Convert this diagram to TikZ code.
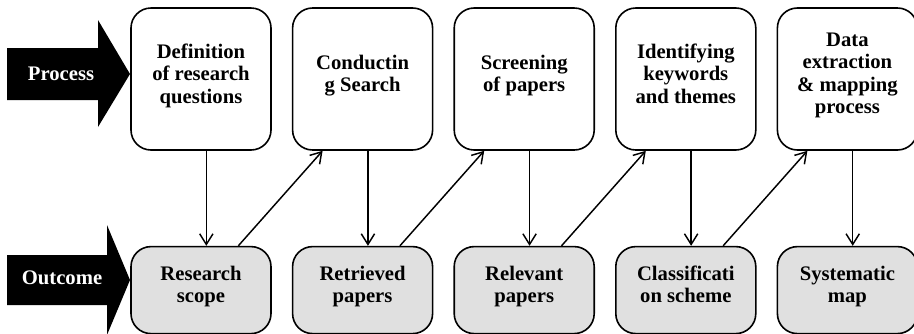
\documentclass[tikz,border=0pt]{standalone}
\usepackage{fontspec}
\setmainfont{Liberation Serif}
\usetikzlibrary{arrows.meta,positioning}
\definecolor{outgray}{RGB}{224,224,224}

\begin{document}
\begin{tikzpicture}[
    x=0.75pt, y=-0.75pt,
    node distance=71.25pt and 15pt,
    proc/.style={draw, line width=1.2pt, rounded corners=15pt, fill=white,
                minimum width=105pt, minimum height=106.5pt, align=center,
                font=\fontsize{15.5}{16.9}\selectfont\bfseries,
                execute at end node={\rule[-8.5pt]{0pt}{8.5pt}}},
    outc/.style={proc, fill=outgray, minimum height=65.25pt},
    tag/.style={text=white, font=\fontsize{15.5}{16.9}\selectfont\bfseries},
    arr/.style={-{Straight Barb[length=8pt,width=10pt]}, line width=1.1pt}
]
    \useasboundingbox (0,0) rectangle (914,333);

    % big arrows on the left
    \fill (7,48) -- (98,48) -- (98,20) -- (130,74) -- (98,127) -- (98,100) -- (7,100) -- cycle;
    \fill (7,255) -- (107,255) -- (107,225) -- (130,280) -- (107,335) -- (107,305) -- (7,305) -- cycle;
    \node[tag] (proclbl) at (61,74) {Process};
    \node[tag] (outlbl) at (62,278) {Outcome};

    % process steps
    \node[proc] (p1) at (201,79) {Definition\\of research\\questions};
    \node[proc, right=of p1] (p2) {Conductin\\g Search};
    \node[proc, right=of p2] (p3) {Screening\\of papers};
    \node[proc, right=of p3] (p4) {Identifying\\keywords\\and themes};
    \node[proc, right=of p4] (p5) {Data\\extraction\\\& mapping\\process};

    % outcomes
    \node[outc, below=of p1] (o1) {Research\\scope};
    \node[outc, below=of p2] (o2) {Retrieved\\papers};
    \node[outc, below=of p3] (o3) {Relevant\\papers};
    \node[outc, below=of p4] (o4) {Classificati\\on scheme};
    \node[outc, below=of p5] (o5) {Systematic\\map};

    \draw[arr] ([xshift=4pt]p1.south) -- ([xshift=4pt]o1.north);
    \draw[arr] ([xshift=4pt]p2.south) -- ([xshift=4pt]o2.north);
    \draw[arr] ([xshift=4pt]p3.south) -- ([xshift=4pt]o3.north);
    \draw[arr] ([xshift=4pt]p4.south) -- ([xshift=4pt]o4.north);
    \draw[arr] ([xshift=4pt]p5.south) -- ([xshift=4pt]o5.north);

    \draw[arr] ([xshift=28pt]o1.north) -- ([xshift=-30pt]p2.south);
    \draw[arr] ([xshift=28pt]o2.north) -- ([xshift=-30pt]p3.south);
    \draw[arr] ([xshift=28pt]o3.north) -- ([xshift=-30pt]p4.south);
    \draw[arr] ([xshift=28pt]o4.north) -- ([xshift=-30pt]p5.south);
\end{tikzpicture}
\end{document}
